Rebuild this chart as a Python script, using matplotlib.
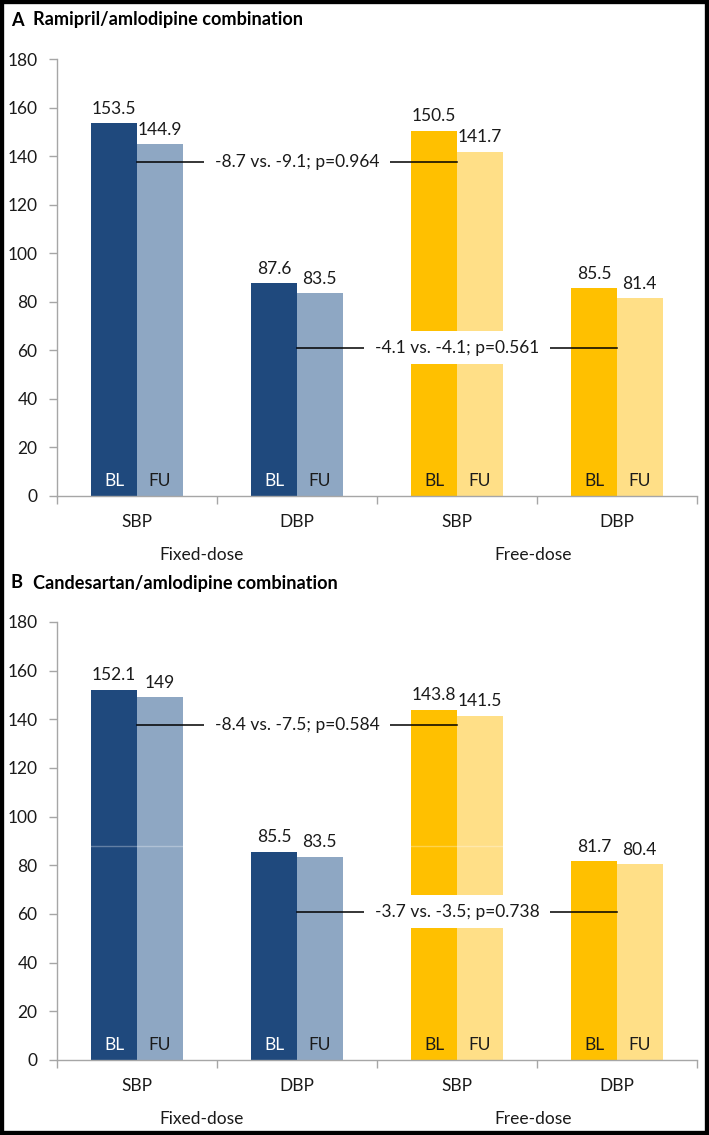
import numpy as np
import matplotlib
matplotlib.use("Agg")
from matplotlib import pyplot as plt
from matplotlib.patches import Rectangle

plt.rcParams['font.family'] = ['Lato', 'DejaVu Sans']

# data
categories = ["SBP", "DBP", "SBP", "DBP"]
groups = ["Fixed-dose", "Free-dose"]
bar_labels = ["BL", "FU"]

panel_letters = ["A", "B"]
titles = ["Ramipril/amlodipine combination",
          "Candesartan/amlodipine combination"]

a_bl = [153.5, 87.6, 150.5, 85.5]
a_fu = [144.9, 83.5, 141.7, 81.4]
b_bl = [152.1, 85.5, 143.8, 81.7]
b_fu = [149, 83.5, 141.5, 80.4]

a_notes = ["-8.7 vs. -9.1; p=0.964", "-4.1 vs. -4.1; p=0.561"]
b_notes = ["-8.4 vs. -7.5; p=0.584", "-3.7 vs. -3.5; p=0.738"]
note_levels = [137.5, 61]
note_pairs = [(0, 2), (1, 3)]

c_bl = ["#1F497D", "#1F497D", "#FFC000", "#FFC000"]
c_fu = ["#8EA7C3", "#8EA7C3", "#FFDF87", "#FFDF87"]
bl_text = ["white", "white", "#1a1a1a", "#1a1a1a"]

gray = "#A6A6A6"
txt = "#1a1a1a"
fs = 12.5
w = 0.285


def panel(ax, bl, fu, notes):
    x = np.arange(len(categories))
    ax.bar(x - w / 2, bl, w, color=c_bl, zorder=2)
    ax.bar(x + w / 2, fu, w, color=c_fu, zorder=2)

    for i in range(len(x)):
        ax.annotate(f"{bl[i]:g}", (x[i] - w / 2, bl[i]), xytext=(0, 10.5),
                    textcoords="offset points", ha="center", va="center",
                    fontsize=fs, color=txt)
        ax.annotate(f"{fu[i]:g}", (x[i] + w / 2, fu[i]), xytext=(0, 10.5),
                    textcoords="offset points", ha="center", va="center",
                    fontsize=fs, color=txt)
        ax.annotate(bar_labels[0], (x[i] - w / 2, 0), xytext=(0, 10.5),
                    textcoords="offset points", ha="center", va="center",
                    fontsize=fs, color=bl_text[i], zorder=5)
        ax.annotate(bar_labels[1], (x[i] + w / 2, 0), xytext=(0, 10.5),
                    textcoords="offset points", ha="center", va="center",
                    fontsize=fs, color=txt, zorder=5)
        ax.annotate(categories[i], (x[i], 0), xycoords=("data", "axes fraction"),
                    xytext=(0, -19), textcoords="offset points",
                    ha="center", va="center", fontsize=fs, color=txt)

    for g, gx in zip(groups, [0.406, 2.475]):
        ax.annotate(g, (gx, 0), xycoords=("data", "axes fraction"),
                    xytext=(0, -42.5), textcoords="offset points",
                    ha="center", va="center", fontsize=fs, color=txt)

    # comparison lines with white label box
    for (i0, i1), yv, note in zip(note_pairs, note_levels, notes):
        ax.plot([x[i0], x[i1]], [yv, yv], color="black", lw=1.1, zorder=3)
        mid = (x[i0] + x[i1]) / 2
        ax.add_patch(Rectangle((mid - 0.58, yv - 6.8), 1.16, 13.6,
                               facecolor="white", edgecolor="none", zorder=4))
        ax.text(mid, yv, note, ha="center", va="center", fontsize=fs,
                color=txt, zorder=5)

    ax.set_xlim(-0.5, 3.5)
    ax.set_ylim(0, 180)
    ax.set_yticks(np.arange(0, 181, 20))
    ax.set_xticks(np.arange(-0.5, 3.6, 1))
    ax.set_xticklabels([])
    ax.tick_params(axis="y", length=6, width=1, color=gray, labelsize=fs,
                   labelcolor=txt, pad=8)
    ax.tick_params(axis="x", length=5.5, width=1, color=gray)
    for s in ["top", "right"]:
        ax.spines[s].set_visible(False)
    for s in ["left", "bottom"]:
        ax.spines[s].set_color(gray)
        ax.spines[s].set_linewidth(1)


fig = plt.figure(figsize=(7.09, 11.35), dpi=100)

ax1 = fig.add_axes([0.0804, 0.5634, 0.9026, 0.3844])
panel(ax1, a_bl, a_fu, a_notes)

ax2 = fig.add_axes([0.0804, 0.0661, 0.9026, 0.3859])
panel(ax2, b_bl, b_fu, b_notes)
# faint streak across the SBP bars in panel B
for cx in [0, 2]:
    ax2.plot([cx - w, cx + w], [88, 88], color="white", lw=1, alpha=0.3, zorder=2.5)

for letter, title, ypx in zip(panel_letters, titles, [20, 583]):
    fig.text(11 / 709, 1 - ypx / 1135, letter, fontsize=13.1, fontweight="bold",
             va="center", ha="left", color="black")
    fig.text(33 / 709, 1 - ypx / 1135, title, fontsize=13.1, fontweight="bold",
             va="center", ha="left", color="black")

fig.patches.append(Rectangle((0, 0), 1, 1, transform=fig.transFigure, fill=False,
                             edgecolor="black", lw=6))

plt.savefig("out.png", dpi=100)
